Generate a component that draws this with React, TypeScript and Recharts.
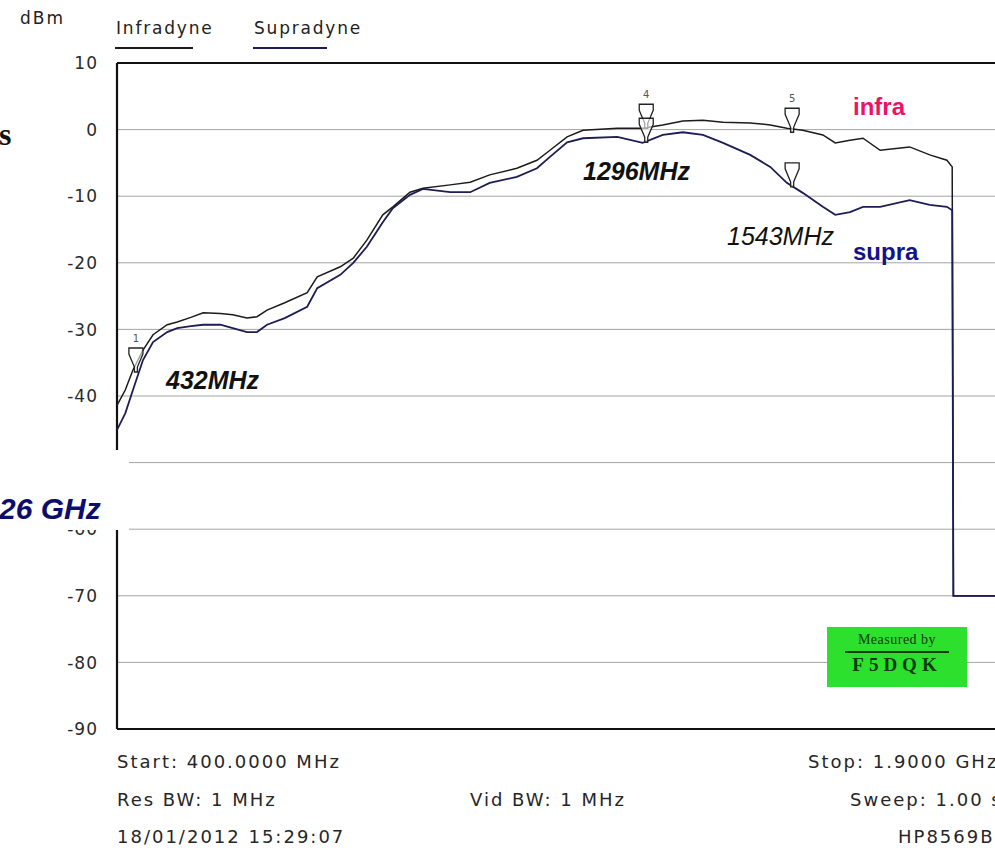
import React from "react";
import {
  ComposedChart,
  Line,
  Scatter,
  XAxis,
  YAxis,
  CartesianGrid,
  ReferenceLine,
} from "recharts";

// Frequency samples of the two traces (MHz)
const freqMHz = [
  400, 414, 427, 444, 461, 485, 502, 525, 546, 575, 596, 620, 637, 654, 684,
  722, 739, 778, 800, 823, 850, 867, 896, 918, 964, 998, 1031, 1077, 1111,
  1133, 1162, 1189, 1247, 1290, 1324, 1358, 1392, 1426, 1472, 1506, 1534,
  1561, 1595, 1616, 1641, 1663, 1692, 1742, 1776, 1805, 1814, 1816, 1900,
];
// Infradyne trace (dBm)
const infraDbm = [
  -41.4, -39.1, -36.1, -33.1, -30.8, -29.3, -28.9, -28.2, -27.5, -27.6, -27.8,
  -28.3, -28.1, -27.1, -26.0, -24.5, -22.1, -20.6, -19.3, -16.6, -12.8, -11.6,
  -9.4, -8.8, -8.3, -7.9, -6.8, -5.8, -4.6, -3.1, -1.1, -0.1, 0.2, 0.2, 0.7,
  1.3, 1.4, 1.1, 1.0, 0.7, 0.2, -0.1, -0.8, -2.0, -1.6, -1.3, -3.1, -2.6,
  -3.8, -4.6, -5.6, -70, -70,
];
// Supradyne trace (dBm)
const supraDbm = [
  -45.1, -42.6, -39.1, -34.6, -31.9, -30.4, -29.8, -29.5, -29.3, -29.3, -29.8,
  -30.4, -30.4, -29.3, -28.3, -26.6, -23.8, -21.8, -20.0, -17.6, -13.9, -11.8,
  -9.8, -8.9, -9.4, -9.4, -8.0, -7.1, -5.8, -4.1, -1.9, -1.3, -1.1, -2.0,
  -0.8, -0.4, -0.8, -2.0, -3.8, -5.6, -8.0, -9.5, -11.6, -12.8, -12.4, -11.6,
  -11.6, -10.6, -11.3, -11.6, -12.1, -70, -70,
];

// Markers
const markerFreq = [432, 1296, 1296, 1543, 1543];
const markerDbm = [-36.4, 0.2, -1.9, -0.4, -8.6];
const markerNum = ["1", "4", "", "5", ""];

const yTicks = [10, 0, -10, -20, -30, -40, -50, -60, -70, -80, -90];
const xTicks = [400, 550, 700, 850, 1000, 1150, 1300, 1450, 1600, 1750, 1900];

const traceData = freqMHz.map((f, i) => ({
  f,
  infra: infraDbm[i],
  supra: supraDbm[i],
}));
const markerData = markerFreq.map((f, i) => ({
  f,
  v: markerDbm[i],
  n: markerNum[i],
}));

const UI_FONT = "'DejaVu Sans', Verdana, sans-serif";
const ANN_FONT = "'Liberation Sans', Arial, sans-serif";

const YTick = (props: any) => {
  const { x, y, payload } = props;
  return (
    <text
      x={x}
      y={y}
      dy="0.36em"
      textAnchor="end"
      fontFamily={UI_FONT}
      fontSize={17}
      letterSpacing={1}
      fill="#2a2a2a"
    >
      {payload.value}
    </text>
  );
};

const MarkerShape = (props: any) => {
  const { cx, cy, payload } = props;
  if (cx == null || cy == null) return null;
  const d = `M${cx - 7},${cy - 24} H${cx + 7} V${cy - 18} L${cx + 1.5},${cy - 5} V${cy} H${cx - 1.5} V${cy - 5} L${cx - 7},${cy - 18} Z`;
  return (
    <g>
      <path d={d} fill="#ffffff" fillOpacity={0.6} stroke="#222" strokeWidth={1.3} />
      {payload.n ? (
        <text
          x={cx}
          y={cy - 30}
          textAnchor="middle"
          fontFamily={UI_FONT}
          fontSize={10}
          fill="#555"
        >
          {payload.n}
        </text>
      ) : null}
    </g>
  );
};

const textRow = (
  label: string,
  left: number,
  cy: number,
  extra: React.CSSProperties = {}
) => (
  <div
    style={{
      position: "absolute",
      left,
      top: cy - 10,
      height: 20,
      lineHeight: "20px",
      fontFamily: UI_FONT,
      fontSize: 18,
      letterSpacing: 2,
      color: "#262626",
      whiteSpace: "nowrap",
      ...extra,
    }}
  >
    {label}
  </div>
);

export default function App() {
  return (
    <div
      style={{
        position: "relative",
        width: 995,
        height: 854,
        overflow: "hidden",
        background: "#ffffff",
      }}
    >
      <style>{`body{margin:0;}`}</style>
      <ComposedChart
        width={1010}
        height={854}
        data={traceData}
        margin={{ top: 63, right: 7, bottom: 125, left: 0 }}
      >
        <CartesianGrid stroke="#a4a4a4" strokeWidth={1} />
        <XAxis
          dataKey="f"
          type="number"
          domain={[400, 1900]}
          ticks={xTicks}
          tick={false}
          tickLine={false}
          axisLine={false}
          height={0}
          allowDataOverflow
        />
        <YAxis
          type="number"
          domain={[-90, 10]}
          ticks={yTicks}
          width={117}
          axisLine={false}
          tickLine={false}
          tickSize={0}
          tickMargin={19}
          tick={<YTick />}
          interval={0}
          allowDataOverflow
        />
        <ReferenceLine x={400} stroke="#111" strokeWidth={2.2} />
        <ReferenceLine y={10} stroke="#111" strokeWidth={2.2} />
        <ReferenceLine y={-90} stroke="#111" strokeWidth={2.2} />
        <Line
          dataKey="infra"
          type="linear"
          stroke="#1b1b1b"
          strokeWidth={1.5}
          dot={false}
          isAnimationActive={false}
        />
        <Line
          dataKey="supra"
          type="linear"
          stroke="#1d1d55"
          strokeWidth={1.8}
          dot={false}
          isAnimationActive={false}
        />
        <Scatter
          data={markerData}
          dataKey="v"
          shape={<MarkerShape />}
          isAnimationActive={false}
        />
      </ComposedChart>

      {/* axis unit and legend */}
      <div
        style={{
          position: "absolute",
          left: 20,
          top: 8,
          fontFamily: UI_FONT,
          fontSize: 17,
          letterSpacing: 2,
          color: "#222",
        }}
      >
        dBm
      </div>
      <div
        style={{
          position: "absolute",
          left: 116,
          top: 18,
          fontFamily: UI_FONT,
          fontSize: 17,
          letterSpacing: 1.8,
          color: "#222",
          whiteSpace: "nowrap",
        }}
      >
        Infradyne
      </div>
      <div
        style={{
          position: "absolute",
          left: 115,
          top: 47,
          width: 78,
          height: 2,
          background: "#1b1b1b",
        }}
      />
      <div
        style={{
          position: "absolute",
          left: 254,
          top: 18,
          fontFamily: UI_FONT,
          fontSize: 17,
          letterSpacing: 1.8,
          color: "#222",
          whiteSpace: "nowrap",
        }}
      >
        Supradyne
      </div>
      <div
        style={{
          position: "absolute",
          left: 253,
          top: 47,
          width: 74,
          height: 2,
          background: "#1d1d55",
        }}
      />

      {/* bottom instrument info */}
      {textRow("Start: 400.0000 MHz", 117, 762)}
      {textRow("Res BW: 1 MHz", 117, 800)}
      {textRow("18/01/2012 15:29:07", 117, 837)}
      {textRow("Vid BW: 1 MHz", 470, 800)}
      {textRow("Stop: 1.9000 GHz", 808, 762)}
      {textRow("Sweep: 1.00 sec", 850, 800)}
      {textRow("HP8569B", 898, 837)}

      {/* annotations */}
      <div
        style={{
          position: "absolute",
          left: 853,
          top: 92,
          fontFamily: ANN_FONT,
          fontWeight: "bold",
          fontSize: 24,
          lineHeight: "30px",
          color: "#ee1166",
        }}
      >
        infra
      </div>
      <div
        style={{
          position: "absolute",
          left: 853,
          top: 237,
          fontFamily: ANN_FONT,
          fontWeight: "bold",
          fontSize: 24,
          lineHeight: "30px",
          color: "#12128c",
        }}
      >
        supra
      </div>
      <div
        style={{
          position: "absolute",
          left: 583,
          top: 156,
          fontFamily: ANN_FONT,
          fontWeight: "bold",
          fontStyle: "italic",
          fontSize: 25,
          lineHeight: "30px",
          color: "#111",
        }}
      >
        1296MHz
      </div>
      <div
        style={{
          position: "absolute",
          left: 727,
          top: 221,
          fontFamily: ANN_FONT,
          fontStyle: "italic",
          fontSize: 25,
          lineHeight: "30px",
          color: "#111",
        }}
      >
        1543MHz
      </div>
      <div
        style={{
          position: "absolute",
          left: 166,
          top: 365,
          fontFamily: ANN_FONT,
          fontWeight: "bold",
          fontStyle: "italic",
          fontSize: 25,
          lineHeight: "30px",
          color: "#111",
        }}
      >
        432MHz
      </div>

      {/* pasted fragments at left */}
      <div
        style={{
          position: "absolute",
          left: -1,
          top: 116,
          fontFamily: "'Liberation Serif', 'DejaVu Serif', serif",
          fontWeight: "bold",
          fontSize: 32,
          lineHeight: "36px",
          color: "#111",
          whiteSpace: "nowrap",
        }}
      >
        s
      </div>
      <div
        style={{
          position: "absolute",
          left: 0,
          top: 450,
          width: 129,
          height: 80,
          background: "#ffffff",
        }}
      />
      <div
        style={{
          position: "absolute",
          left: -1,
          top: 492,
          fontFamily: ANN_FONT,
          fontWeight: "bold",
          fontStyle: "italic",
          fontSize: 30,
          lineHeight: "34px",
          color: "#0d0d6b",
          whiteSpace: "nowrap",
        }}
      >
        26 GHz
      </div>

      {/* Measured by box */}
      <div
        style={{
          position: "absolute",
          left: 827,
          top: 627,
          width: 140,
          height: 60,
          background: "#2ee02e",
          fontFamily: "'Liberation Serif', 'DejaVu Serif', serif",
          color: "#0b3a0b",
          textAlign: "center",
        }}
      >
        <div style={{ fontSize: 14, marginTop: 5, lineHeight: "16px", letterSpacing: 0.5 }}>
          Measured by
        </div>
        <div
          style={{
            fontSize: 19,
            fontWeight: "bold",
            letterSpacing: 5,
            marginTop: 3,
            borderTop: "2px solid #0b3a0b",
            width: 104,
            marginLeft: 18,
            lineHeight: "24px",
          }}
        >
          F5DQK
        </div>
      </div>
    </div>
  );
}
